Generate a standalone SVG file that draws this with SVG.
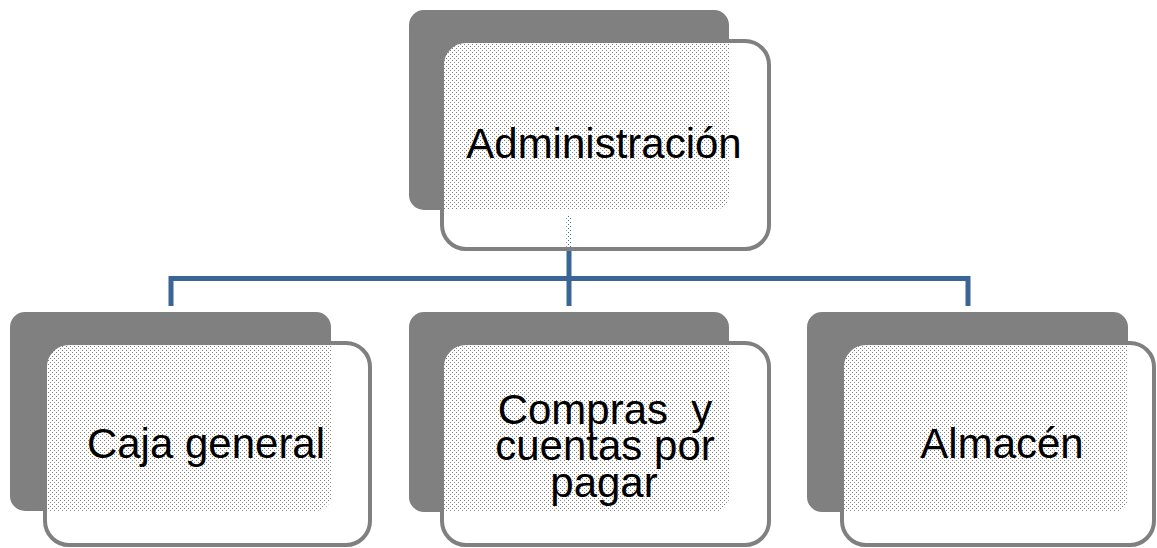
<svg xmlns="http://www.w3.org/2000/svg" width="1157" height="548" viewBox="0 0 1157 548">
<style>
.back{fill:#808080;}
.front{fill:url(#holes);stroke:#808080;stroke-width:4;}
.conn{fill:none;stroke:#3B6597;stroke-width:5;}
.lbl{font-family:"Liberation Sans",Arial,sans-serif;font-size:42px;fill:#000;text-anchor:middle;white-space:pre;}
</style>
<defs>
<pattern id="holes" patternUnits="userSpaceOnUse" x="0" y="0" width="4" height="4">
<path d="M0 0H4V4H0Z M0 0V1H1V0Z M2 2V3H3V2Z" fill="#ffffff" fill-rule="evenodd"/>
</pattern>
</defs>
<rect width="1157" height="548" fill="#ffffff"/>
<g id="connectors">
<path class="conn" d="M569 215V306"/>
<path class="conn" d="M171 306V278.5H968V306"/>
</g>
<g id="node-administracion">
<rect class="back" x="409" y="10" width="320" height="200" rx="15"/>
<rect class="front" x="442" y="41" width="327" height="208" rx="24"/>
<text class="lbl" x="604" y="158">Administración</text>
</g>
<g id="node-caja">
<rect class="back" x="10" y="312" width="321" height="199" rx="15"/>
<rect class="front" x="45" y="343" width="325" height="202" rx="24"/>
<text class="lbl" x="206" y="458">Caja general</text>
</g>
<g id="node-compras">
<rect class="back" x="409" y="312" width="320" height="200" rx="15"/>
<rect class="front" x="442" y="343" width="327" height="202" rx="24"/>
<text class="lbl" xml:space="preserve"><tspan x="605" y="424">Compras  y</tspan><tspan x="605" y="460">cuentas por</tspan><tspan x="604" y="497">pagar</tspan></text>
</g>
<g id="node-almacen">
<rect class="back" x="807" y="312" width="321" height="200" rx="15"/>
<rect class="front" x="842" y="343" width="312" height="202" rx="24"/>
<text class="lbl" x="1002" y="458">Almacén</text>
</g>
</svg>
